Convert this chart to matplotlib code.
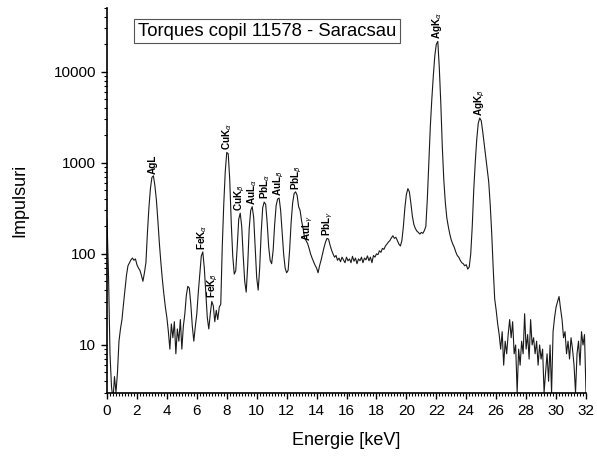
import numpy as np
import matplotlib
matplotlib.use("Agg")
import matplotlib.pyplot as plt
from matplotlib.ticker import MultipleLocator, LogLocator, NullFormatter, FixedLocator

plt.rcParams['font.family'] = ['Liberation Sans', 'DejaVu Sans']
plt.rcParams['mathtext.fontset'] = 'custom'
plt.rcParams['mathtext.rm'] = 'Liberation Sans'
plt.rcParams['mathtext.it'] = 'DejaVu Sans:italic'
plt.rcParams['mathtext.bf'] = 'Liberation Sans:bold'

# ---- data (energy in keV, one channel per 0.1 keV) ----
step_kev = 0.1
counts = [
    240, 60, 8, 3.5, 2.5, 4.5, 3, 5, 11, 15,                        # 0
    19, 28, 40, 58, 74, 80, 86, 90, 85, 88,                         # 1
    76, 70, 66, 58, 50, 62, 80, 170, 320, 520,                      # 2
    690, 720, 560, 390, 230, 130, 80, 52, 36, 26,                   # 3
    20, 14, 9, 17, 12, 18, 8, 15, 11, 19,                           # 4
    9, 16, 22, 35, 44, 42, 28, 16, 11, 16,                          # 5
    22, 38, 60, 95, 105, 70, 38, 20, 15, 22,                        # 6
    30, 27, 18, 24, 19, 26, 28, 120, 350, 800,                      # 7
    1300, 1250, 650, 220, 95, 60, 65, 120, 240, 280,                # 8
    200, 95, 50, 38, 75, 190, 300, 330, 250, 120,                   # 9
    55, 40, 70, 170, 320, 370, 350, 220, 120, 85,                   # 10
    78, 110, 210, 340, 400, 410, 300, 170, 100, 70,                 # 11
    62, 66, 110, 220, 360, 460, 480, 440, 330, 300,                 # 12
    230, 190, 150, 140, 130, 115, 100, 90, 82, 75,                  # 13
    70, 62, 74, 85, 100, 118, 135, 148, 145, 125,                   # 14
    110, 100, 92, 96, 85, 90, 82, 92, 86, 80,                       # 15
    92, 84, 88, 80, 94, 83, 90, 78, 88, 84,                         # 16
    92, 80, 90, 86, 95, 84, 92, 80, 96, 92,                         # 17
    100, 98, 108, 104, 115, 112, 122, 128, 135, 140,                # 18
    150, 158, 148, 152, 140, 128, 122, 140, 200, 320,               # 19
    450, 520, 480, 360, 260, 210, 190, 178, 172, 165,               # 20
    172, 168, 180, 200, 400, 1000, 2500, 5000, 9000, 15000,         # 21
    20000, 21500, 11000, 4500, 1500, 650, 370, 250, 200, 165,       # 22
    142, 128, 118, 105, 96, 92, 85, 80, 78, 74,                     # 23
    76, 68, 72, 100, 200, 500, 1000, 1800, 2700, 3100,              # 24
    2900, 2200, 1600, 1150, 850, 620, 350, 170, 70, 32,             # 25
    24, 17, 13, 9, 14, 6, 11, 8, 13, 19,                            # 26
    12, 18, 8, 10, 3, 9, 6, 11, 8, 22,                              # 27
    9, 13, 7, 19, 10, 12, 8, 11, 6, 10,                             # 28
    7, 9, 3, 5, 8, 4, 10, 3, 14, 20,                                # 29
    26, 30, 34, 25, 19, 12, 14, 8, 11, 7,                           # 30
    12, 9, 6, 3, 8, 11, 6, 14, 10, 13,                              # 31
    3,                                                              # 32
]
energy = np.arange(len(counts)) * step_kev

peak_names = ["AgL", r"FeK$_{\alpha}$", r"FeK$_{\beta}$", r"CuK$_{\alpha}$",
              r"CuK$_{\beta}$", r"AuL$_{\alpha}$", r"PbL$_{\alpha}$", r"AuL$_{\beta}$",
              r"PbL$_{\beta}$", r"AuL$_{\gamma}$", r"PbL$_{\gamma}$",
              r"AgK$_{\alpha}$", r"AgK$_{\beta}$"]
peak_energy = [3.05, 6.35, 7.05, 8.05, 8.85, 9.72, 10.55, 11.48, 12.65, 13.42, 14.77, 22.07, 24.92]
peak_counts = [720, 105, 31, 1320, 280, 330, 375, 410, 480, 130, 148, 21500, 3100]

x_ticks = list(range(0, 33, 2))
y_ticks = [10, 100, 1000, 10000]
y_tick_labels = ["10", "100", "1000", "10000"]

# ---- figure ----
fig = plt.figure(figsize=(5.97, 4.57), dpi=100)
ax = fig.add_axes([107/597, 1-393/457, 479/597, 385/457])

ax.plot(energy, counts, color='#1a1a1a', lw=0.8)

ax.set_yscale('log')
ax.set_xlim(0, 32)
ax.set_ylim(2.97, 50000)

ax.xaxis.set_major_locator(FixedLocator(x_ticks))
ax.xaxis.set_minor_locator(MultipleLocator(0.2))
ax.set_xticklabels([str(t) for t in x_ticks])
ax.yaxis.set_major_locator(FixedLocator(y_ticks))
ax.set_yticklabels(y_tick_labels)
ax.yaxis.set_minor_locator(LogLocator(base=10, subs=np.arange(2, 10)))
ax.yaxis.set_minor_formatter(NullFormatter())

ax.tick_params(which='major', direction='out', length=4.5, width=1.0, labelsize=11, colors='black')
ax.tick_params(which='minor', direction='out', length=2.2, width=0.8)

for s in ['top', 'right']:
    ax.spines[s].set_visible(False)
for s in ['left', 'bottom']:
    ax.spines[s].set_linewidth(1.2)

ax.set_xlabel("Energie [keV]", fontsize=13, labelpad=10)
ax.set_ylabel("Impulsuri", fontsize=13, labelpad=18)

for name, e, c in zip(peak_names, peak_energy, peak_counts):
    ax.annotate(name, xy=(e, c), xytext=(0, 1.5), textcoords='offset points',
                rotation=90, ha='center', va='bottom', fontsize=7.2, fontweight='bold',
                annotation_clip=False)

ax.text(0.334, 0.94, "Torques copil 11578 - Saracsau", transform=ax.transAxes,
        ha='center', va='center', fontsize=13.3,
        bbox=dict(boxstyle='square,pad=0.2', fc='white', ec='#555555', lw=0.8))

fig.savefig("out.png", dpi=100)
